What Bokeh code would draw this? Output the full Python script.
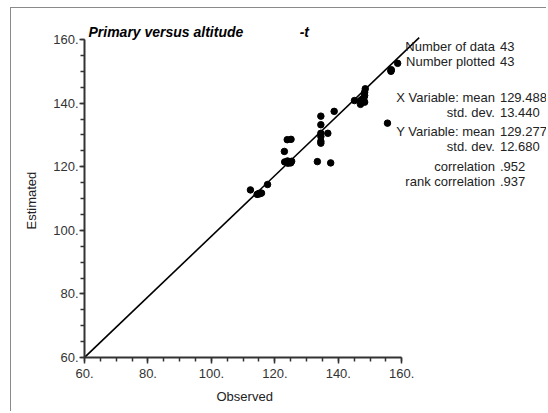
from bokeh.plotting import figure
from bokeh.models import FixedTicker, Label, Range1d, Title
from bokeh.embed import file_html
from bokeh.resources import INLINE

# ---------------- data ----------------
observed = [112.3, 114.4, 115.3, 115.8, 114.8, 115.0, 117.7,
            123.0, 123.9, 125.1, 123.1, 124.1, 124.8, 125.3, 124.5, 124.0, 125.0,
            134.5, 138.7, 134.5, 134.5, 136.7, 134.5, 134.5, 133.4, 137.6, 134.5,
            155.5,
            145.1, 147.0, 148.0, 148.3, 148.3, 148.5, 147.0, 148.3, 147.5, 147.8, 148.1,
            156.6, 156.7, 156.6, 158.7]
estimated = [112.7, 111.3, 111.5, 111.7, 111.4, 111.6, 114.4,
             124.8, 128.5, 128.6, 121.5, 121.1, 121.5, 121.7, 121.3, 121.8, 121.2,
             135.9, 137.4, 133.2, 130.5, 130.5, 128.0, 127.4, 121.6, 121.2, 129.5,
             133.7,
             140.8, 140.8, 141.0, 142.4, 143.4, 144.5, 139.6, 140.3, 141.2, 140.5, 141.8,
             150.0, 150.5, 150.2, 152.5]

ref_line_x = [60, 165.5]
ref_line_y = [60, 160.6]

tick_values = [60, 80, 100, 120, 140, 160]
tick_labels = ["60.", "80.", "100.", "120.", "140.", "160."]
minor_values = [60, 65, 70, 75, 80, 85, 90, 95, 100, 105, 110, 115, 120,
                125, 130, 135, 140, 145, 150, 155, 160]

title_text = "Primary versus altitude"
title_suffix = "-t"
x_label = "Observed"
y_label = "Estimated"
stat_names = ["Number of data", "Number plotted", "X Variable: mean", "std. dev.",
              "Y Variable: mean", "std. dev.", "correlation", "rank correlation"]
stat_values = ["43", "43", "129.488", "13.440", "129.277", "12.680", ".952", ".937"]

# ---------------- layout ----------------
FONT = "Liberation Sans"
TXT = "#222222"
ORIGIN_X, ORIGIN_Y = 11, 8          # canvas origin on the page (margin + border)
W, H = 536, 404
LEFT, TOP, BOTTOM = 69, 12, 55
X_PX, Y_PX = 3.2, 3.18              # pixels per data unit
lo, hi = tick_values[0], tick_values[-1]
frame_w = W - LEFT
frame_h = H - TOP - BOTTOM
x_end = lo + frame_w / X_PX
y_end = lo + frame_h / Y_PX

p = figure(width=W, height=H, output_backend="svg", toolbar_location=None,
           x_range=Range1d(lo, x_end), y_range=Range1d(lo, y_end),
           min_border_left=LEFT, min_border_right=0,
           min_border_top=TOP, min_border_bottom=BOTTOM,
           styles={"margin-left": "10px", "margin-top": "7px",
                   "border-left": "1px solid #8a8a8a", "border-top": "1px solid #8a8a8a"})
p.grid.visible = False
p.outline_line_color = None
p.background_fill_color = "white"
p.border_fill_color = "white"

for ax in (p.xaxis, p.yaxis):
    ax.bounds = (lo, hi)
    ax.ticker = FixedTicker(ticks=tick_values, minor_ticks=minor_values)
    ax.major_label_overrides = {v: s for v, s in zip(tick_values, tick_labels)}
    ax.axis_line_width = 2
    ax.axis_line_color = "#333333"
    ax.major_tick_line_color = "#333333"
    ax.minor_tick_line_color = "#333333"
    ax.major_tick_line_width = 1.5
    ax.minor_tick_line_width = 1.5
    ax.major_tick_in = 0
    ax.minor_tick_in = 0
    ax.minor_tick_out = 4
    ax.major_label_text_font = FONT
    ax.major_label_text_font_size = "13px"
    ax.major_label_text_color = "#333333"

p.xaxis.major_tick_out = 6
p.xaxis.major_label_standoff = 5
p.yaxis.major_tick_out = 5
p.yaxis.major_label_standoff = 1

# axis titles placed in the side panels
p.add_layout(Title(text=x_label, align="left", offset=132, vertical_align="middle",
                   standoff=14, text_font=FONT, text_font_size="13px",
                   text_font_style="normal", text_color=TXT), "below")
p.add_layout(Title(text=y_label, align="left", offset=128, vertical_align="middle",
                   standoff=22, text_font=FONT, text_font_size="13px",
                   text_font_style="normal", text_color=TXT), "left")

# reference line and points
p.line(ref_line_x, ref_line_y, line_color="black", line_width=1.6)
p.scatter(observed, estimated, size=6.5, fill_color="black", line_color="black")

# page pixel -> data helpers for annotation placement
frame_left_pg = ORIGIN_X + LEFT
frame_bottom_pg = ORIGIN_Y + TOP + frame_h
def dx(px):
    return lo + (px - frame_left_pg) / X_PX
def dy(py):
    return lo + (frame_bottom_pg - py) / Y_PX

for txt, px in ((title_text, 84), (title_suffix, 297)):
    p.add_layout(Label(x=dx(px), y=dy(31), text=txt, text_font=FONT,
                       text_font_size="14px", text_font_style="bold italic",
                       text_color="black", text_baseline="middle", text_align="left"))

row_y = [46, 61, 97, 112, 131, 146, 166, 181]
for name, val, ry in zip(stat_names, stat_values, row_y):
    p.add_layout(Label(x=dx(494), y=dy(ry), text=name, text_font=FONT,
                       text_font_size="13px", text_color=TXT,
                       text_baseline="middle", text_align="right"))
    p.add_layout(Label(x=dx(499), y=dy(ry), text=val, text_font=FONT,
                       text_font_size="13px", text_color=TXT,
                       text_baseline="middle", text_align="left"))

open("out.html", "w").write(file_html(p, INLINE))
